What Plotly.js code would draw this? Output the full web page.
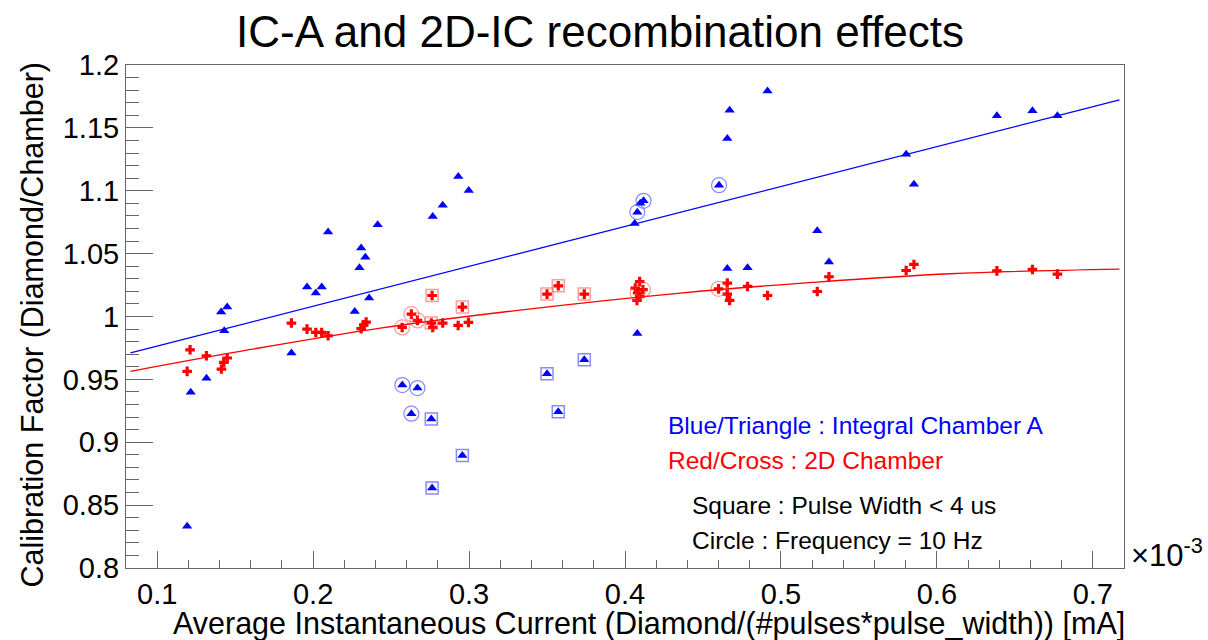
<!DOCTYPE html>
<html>
<head>
<meta charset="utf-8">
<script src="https://cdn.plot.ly/plotly-3.0.1.min.js"></script>
<style>html,body{margin:0;padding:0;background:#fff;}#chart{width:1208px;height:640px;}</style>
</head>
<body>
<div id="chart"></div>
<script>
// Blue/Triangle : Integral Chamber A  (x in units of 1e-3 mA)
const blueX = [0.1192,0.1215,0.1316,0.1410,0.1449,0.1430,0.1861,0.1961,0.2017,0.2055,
               0.2096,0.2267,0.2297,0.2308,0.2335,0.2359,0.2414,0.2767,0.2831,0.2931,
               0.2998,0.2572,0.2669,0.2630,0.2758,0.2957,0.2763,0.3500,0.3572,0.3739,
               0.4062,0.4079,0.4098,0.4119,0.4079,0.4603,0.4656,0.4671,0.4914,0.4656,
               0.4786,0.5233,0.5308,0.5803,0.5853,0.6385,0.6613,0.6773];
const blueY = [0.8332,0.9397,0.9508,1.0035,1.0075,0.9887,0.9710,1.0234,1.0186,1.0234,
               1.0671,1.0040,1.0387,1.0544,1.0472,1.0147,1.0729,1.0795,1.0885,1.1113,
               1.1001,0.9455,0.9431,0.9227,0.9185,0.8894,0.8637,0.9545,0.9243,0.9656,
               1.0739,1.0830,1.0900,1.0920,0.9865,1.1044,1.1415,1.1640,1.1793,1.0382,
               1.0387,1.0681,1.0433,1.1290,1.1052,1.1597,1.1637,1.1597];
// '' none, 'sq' pulse width < 4 us, 'ci' frequency = 10 Hz
const blueTag = ['','','','','','','','','','',
                 '','','','','','','','','','',
                 '','ci','ci','ci','sq','sq','sq','sq','sq','sq',
                 '','ci','','ci','','ci','','','','',
                 '','','','','','','',''];

// Red/Cross : 2D Chamber
const redX = [0.1192,0.1211,0.1316,0.1412,0.1427,0.1449,0.1861,0.1961,0.2017,0.2055,
              0.2096,0.2308,0.2325,0.2340,0.2571,0.2630,0.2669,0.2763,0.2758,0.2767,
              0.2831,0.2930,0.2996,0.2957,0.3500,0.3572,0.3739,0.4094,0.4066,0.4115,
              0.4081,0.4094,0.4077,0.4600,0.4656,0.4656,0.4671,0.4786,0.4914,0.5233,
              0.5308,0.5803,0.5853,0.6385,0.6613,0.6773];
const redY = [0.9564,0.9735,0.9688,0.9582,0.9635,0.9670,0.9948,0.9900,0.9873,0.9873,
              0.9847,0.9903,0.9934,0.9956,0.9913,1.0019,0.9969,1.0167,0.9948,0.9913,
              0.9948,0.9929,0.9953,1.0075,1.0178,1.0244,1.0178,1.0278,1.0226,1.0213,
              1.0187,1.0159,1.0128,1.0220,1.0266,1.0178,1.0128,1.0239,1.0167,1.0199,
              1.0316,1.0366,1.0414,1.0363,1.0374,1.0337];
const redTag = ['','','','','','','','','','',
                '','','','','ci','ci','ci','sq','sq','',
                '','','','sq','sq','sq','sq','','','ci',
                'ci','','','ci','','','','','','',
                '','','','','',''];

// Fit curves
const blueFitX = [0.0829, 0.7171];
const blueFitY = [0.9710, 1.1722];
const redFitX = [0.0829, 0.16, 0.2431, 0.33, 0.4355, 0.52, 0.6085, 0.7171];
const redFitY = [0.9564, 0.9738, 0.9908, 1.0047, 1.0186, 1.0271, 1.0340, 1.0377];

// Axis ticks
const xTickVals = [0.1,0.2,0.3,0.4,0.5,0.6,0.7];
const xTickText = ['0.1','0.2','0.3','0.4','0.5','0.6','0.7'];
const yTickVals = [0.8,0.85,0.9,0.95,1.0,1.05,1.1,1.15,1.2];
const yTickText = ['0.8','0.85','0.9','0.95','1','1.05','1.1','1.15','1.2'];

const titleText = 'IC-A and 2D-IC recombination effects';
const xTitleText = 'Average Instantaneous Current (Diamond/(#pulses*pulse_width)) [mA]';
const yTitleText = 'Calibration Factor (Diamond/Chamber)';
const legendLines = ['Blue/Triangle : Integral Chamber A','Red/Cross : 2D Chamber',
                     'Square : Pulse Width < 4 us','Circle : Frequency = 10 Hz'];
const exponentText = '\u00d710<sup>-3</sup>';

const FONT = 'Liberation Sans, Arial, Helvetica, sans-serif';
const AX = '#666';

function pick(xs, ys, tags, t) {
  const ox = [], oy = [];
  for (let i = 0; i < xs.length; i++) if (tags[i] === t) { ox.push(xs[i]); oy.push(ys[i]); }
  return [ox, oy];
}
const bSq = pick(blueX, blueY, blueTag, 'sq');
const bCi = pick(blueX, blueY, blueTag, 'ci');
const rSq = pick(redX, redY, redTag, 'sq');
const rCi = pick(redX, redY, redTag, 'ci');

const traces = [
  {x: blueFitX, y: blueFitY, mode: 'lines', line: {color: '#0000ff', width: 1.3}, hoverinfo: 'skip'},
  {x: redFitX, y: redFitY, mode: 'lines', line: {color: '#ff0000', width: 1.3, shape: 'spline'}, hoverinfo: 'skip'},
  {x: blueX, y: blueY, mode: 'markers', marker: {symbol: 'triangle-up', size: 9, color: '#0000ff'}},
  {x: redX, y: redY, mode: 'markers', marker: {symbol: 'cross', size: 8, color: '#ff0000'}},
  {x: bSq[0], y: bSq[1], mode: 'markers', marker: {symbol: 'square-open', size: 12, color: 'rgba(60,60,255,0.6)', line: {width: 1.5}}},
  {x: bCi[0], y: bCi[1], mode: 'markers', marker: {symbol: 'circle-open', size: 15, color: 'rgba(60,60,255,0.6)', line: {width: 1.2}}},
  {x: rSq[0], y: rSq[1], mode: 'markers', marker: {symbol: 'square-open', size: 12, color: 'rgba(255,60,60,0.5)', line: {width: 1.5}}},
  {x: rCi[0], y: rCi[1], mode: 'markers', marker: {symbol: 'circle-open', size: 15, color: 'rgba(255,60,60,0.5)', line: {width: 1.2}}}
];

const L = 126, R = 84, T = 65, B = 72;
const PW = 1208 - L - R, PH = 640 - T - B;
function px(xp) { return (xp - L) / PW; }
function py(yp) { return (640 - B - yp) / PH; }

const annotations = [
  {text: xTitleText, xref: 'paper', yref: 'paper', x: px(1127), y: py(623), xanchor: 'right', yanchor: 'middle', showarrow: false, font: {family: FONT, size: 30.5, color: '#000'}},
  {text: yTitleText, xref: 'paper', yref: 'paper', x: px(32), y: py(61), xanchor: 'center', yanchor: 'top', textangle: -90, showarrow: false, font: {family: FONT, size: 30.5, color: '#000'}},
  {text: legendLines[0], xref: 'paper', yref: 'paper', x: px(666), y: py(425), xanchor: 'left', yanchor: 'middle', showarrow: false, font: {family: FONT, size: 24.5, color: '#0000ff'}},
  {text: legendLines[1], xref: 'paper', yref: 'paper', x: px(666), y: py(460), xanchor: 'left', yanchor: 'middle', showarrow: false, font: {family: FONT, size: 24.5, color: '#ff0000'}},
  {text: legendLines[2], xref: 'paper', yref: 'paper', x: px(690), y: py(505), xanchor: 'left', yanchor: 'middle', showarrow: false, font: {family: FONT, size: 24.5, color: '#000'}},
  {text: legendLines[3], xref: 'paper', yref: 'paper', x: px(690), y: py(540), xanchor: 'left', yanchor: 'middle', showarrow: false, font: {family: FONT, size: 24.5, color: '#000'}},
  {text: exponentText, xref: 'paper', yref: 'paper', x: px(1129), y: py(553), xanchor: 'left', yanchor: 'middle', showarrow: false, font: {family: FONT, size: 31, color: '#000'}}
];

const layout = {
  width: 1208, height: 640,
  margin: {l: L, r: R, t: T, b: B, pad: 0},
  paper_bgcolor: '#fff', plot_bgcolor: '#fff',
  showlegend: false,
  title: {text: titleText, font: {family: FONT, size: 44, color: '#000'}, xref: 'paper', x: px(600), xanchor: 'center', yref: 'container', y: 1 - 32/640, yanchor: 'middle'},
  xaxis: {
    range: [0.08, 0.72], showgrid: false, zeroline: false,
    showline: true, linecolor: AX, linewidth: 1, mirror: true,
    tickmode: 'array', tickvals: xTickVals, ticktext: xTickText,
    ticks: 'inside', ticklen: 17, tickcolor: AX, tickwidth: 1,
    tickfont: {family: FONT, size: 29, color: '#000'},
    minor: {ticks: 'inside', ticklen: 8, tickcolor: AX, tickwidth: 1, tickmode: 'linear', tick0: 0.08, dtick: 0.02, showgrid: false}
  },
  yaxis: {
    range: [0.8, 1.2], showgrid: false, zeroline: false,
    showline: true, linecolor: AX, linewidth: 1, mirror: true,
    tickmode: 'array', tickvals: yTickVals, ticktext: yTickText,
    ticks: 'inside', ticklen: 27, tickcolor: AX, tickwidth: 1,
    tickfont: {family: FONT, size: 29, color: '#000'},
    minor: {ticks: 'inside', ticklen: 13, tickcolor: AX, tickwidth: 1, tickmode: 'linear', tick0: 0.8, dtick: 0.01, showgrid: false}
  },
  annotations: annotations
};

Plotly.newPlot('chart', traces, layout, {staticPlot: true, displayModeBar: false});
</script>
</body>
</html>
